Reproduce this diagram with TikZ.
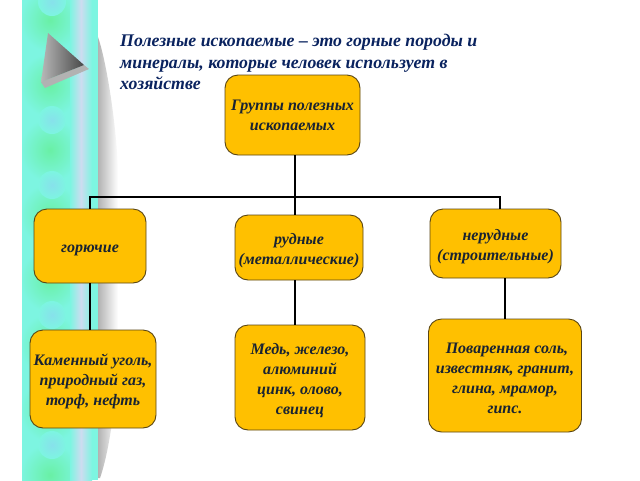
\documentclass[tikz,border=0pt]{standalone}
\usepackage{fontspec}
\setmainfont{Liberation Serif}
\usetikzlibrary{calc}
\definecolor{boxfill}{RGB}{255,192,0}
\definecolor{boxline}{RGB}{90,70,20}
\definecolor{inktext}{RGB}{25,35,50}
\definecolor{headtext}{RGB}{10,35,95}
\definecolor{stripaqua}{RGB}{125,245,225}
\definecolor{stripgreen}{RGB}{105,240,165}
\definecolor{stripblue}{RGB}{135,225,235}
\definecolor{striplilac}{RGB}{205,220,240}
\newcommand{\downtext}{\rule{0pt}{17pt}}
\tikzset{
	group/.style={draw=boxline, line width=0.9pt, rounded corners=13pt, fill=boxfill, inner sep=0pt, text=inktext, align=center, font=\fontsize{16}{20}\selectfont\bfseries\itshape},
	link/.style={line width=2pt, black}
}
\begin{document}
\begin{tikzpicture}[x=1pt, y=-1pt]
	\useasboundingbox (0, 0) rectangle (640, 480);
	\fill [white] (0, 0) rectangle (640, 480);

	% strip on the left
	\begin{scope}
		\clip (22, 0) rectangle (98, 480);
		\fill [stripaqua] (22, 0) rectangle (98, 480);
		\foreach \y in {20, 85, 150, 215, 280, 345, 410, 475} {
			\shade [inner color=stripgreen, outer color=stripaqua] (50, \y) ellipse (30 and 32);
		}
		\foreach \y in {2, 120, 185, 250, 315, 380, 445} {
			\shade [inner color=stripblue, outer color=stripaqua] (52, \y) ellipse (14 and 14);
		}
		\shade [left color=stripaqua, right color=striplilac] (70, 0) rectangle (81, 480);
		\shade [left color=striplilac, right color=stripaqua] (81, 0) rectangle (92, 480);
	\end{scope}

	% shadow of the strip
	\shade [left color=black!30, right color=white] (98, 37) .. controls (106, 60) and (116, 120) .. (118, 170) -- (118, 340) .. controls (118, 390) and (110, 450) .. (100, 478) -- (98, 478) -- cycle;

	% arrow
	\fill [black!30] (84, 65) -- (89, 69) -- (45, 88) -- (41, 82) -- cycle;
	\shade [left color=black!28, right color=black!72] (48, 33) -- (84, 65) -- (41, 82) -- cycle;

	% heading
	\node (head) [anchor=north west, inner sep=0pt, text=headtext, align=left, font=\fontsize{17.8}{21.5}\selectfont\bfseries\itshape] at (120, 34) {Полезные ископаемые – это горные породы и\\минералы, которые человек использует в\\хозяйстве};

	% boxes
	\node (root) [group, minimum width=135pt, minimum height=80pt] at (292.5, 115) {Группы полезных\\ископаемых};
	\node (gor) [group, minimum width=112pt, minimum height=74pt] at (90, 246) {\downtext горючие};
	\node (rud) [group, minimum width=128pt, minimum height=65pt] at (299, 247.5) {\downtext рудные\\(металлические)};
	\node (ner) [group, minimum width=131pt, minimum height=69pt] at (495.5, 243.5) {\downtext нерудные\\(строительные)};
	\node (kam) [group, minimum width=126pt, minimum height=98pt] at (93, 379) {\downtext Каменный уголь,\\природный газ,\\торф, нефть};
	\node (med) [group, minimum width=130pt, minimum height=105pt] at (300, 377.5) {\downtext Медь, железо,\\алюминий\\цинк, олово,\\свинец};
	\node (pov) [group, minimum width=153pt, minimum height=113pt] at (505, 375.5) {\downtext\ Поваренная соль,\\известняк, гранит,\\глина, мрамор,\\гипс.};

	% links
	\coordinate (bus) at (295, 197);
	\draw [link] ($(root.south)+(2.5,0)$) -- (bus);
	\draw [link] (bus) -| (gor.north);
	\draw [link] (bus) -- ($(rud.north)+(-4,0)$);
	\draw [link] (bus) -| ($(ner.north)+(4.5,0)$);
	\draw [link] (gor.south) -- (gor.south |- kam.north);
	\draw [link] ($(rud.south)+(-4,0)$) -- ($(med.north)+(-5,0)$);
	\draw [link] (pov.north |- ner.south) -- (pov.north);
\end{tikzpicture}
\end{document}
